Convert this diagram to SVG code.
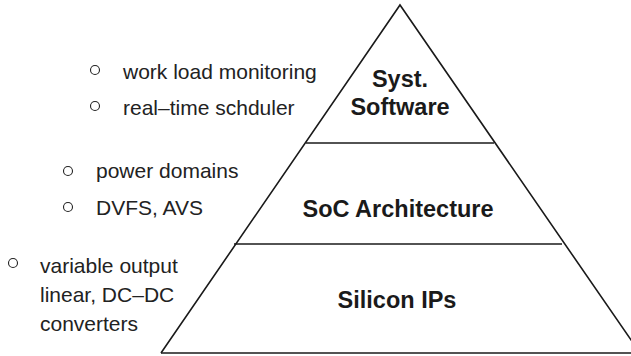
<svg xmlns="http://www.w3.org/2000/svg" width="631" height="356" viewBox="0 0 631 356">
<style>
.edge{fill:none;stroke:#1a1a1a;stroke-width:1.6}
.lbl{font-family:"Liberation Sans",Arial,sans-serif;font-weight:bold;font-size:23.5px;fill:#1a1a1a;text-anchor:middle}
.txt{font-family:"Liberation Sans",Arial,sans-serif;font-size:21px;fill:#222}
.bul{fill:none;stroke:#222;stroke-width:1.1}
</style>
<rect width="631" height="356" fill="#fff"/>
<g id="connectors">
<polyline class="edge" points="161,353 400,5 640,353"/>
<line class="edge" x1="161" y1="353" x2="631" y2="353"/>
<line class="edge" x1="306" y1="143" x2="494" y2="143"/>
<line class="edge" x1="234" y1="244" x2="562" y2="244"/>
</g>
<g id="syst-software">
<text class="lbl" x="400" y="87">Syst.</text>
<text class="lbl" x="400" y="115">Software</text>
</g>
<g id="soc-architecture">
<text class="lbl" x="398" y="217">SoC Architecture</text>
</g>
<g id="silicon-ips">
<text class="lbl" x="397" y="308">Silicon IPs</text>
</g>
<g id="notes-software">
<circle class="bul" cx="95" cy="70" r="4.5"/>
<text class="txt" x="123" y="79">work load monitoring</text>
<circle class="bul" cx="95" cy="106" r="4.5"/>
<text class="txt" x="123" y="115">real–time schduler</text>
</g>
<g id="notes-soc">
<circle class="bul" cx="68" cy="171" r="4.5"/>
<text class="txt" x="96" y="178">power domains</text>
<circle class="bul" cx="68" cy="207" r="4.5"/>
<text class="txt" x="96" y="215">DVFS, AVS</text>
</g>
<g id="notes-silicon">
<circle class="bul" cx="13" cy="263" r="4.5"/>
<text class="txt" x="40" y="273">variable output</text>
<text class="txt" x="40" y="302">linear, DC–DC</text>
<text class="txt" x="40" y="331">converters</text>
</g>
</svg>
